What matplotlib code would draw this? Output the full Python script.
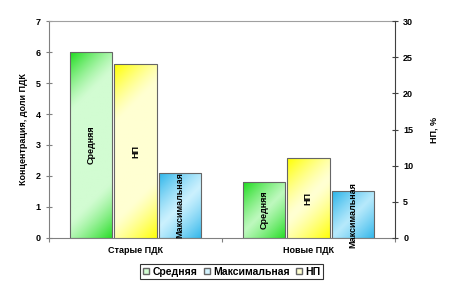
import numpy as np
import matplotlib.pyplot as plt
from matplotlib.colors import to_rgb
from matplotlib.patches import Patch

# --- data ---
categories = ['Старые ПДК', 'Новые ПДК']
mean_conc = [6.0, 1.8]      # Средняя, доли ПДК
max_conc = [2.1, 1.5]       # Максимальная, доли ПДК
np_pct = [24.0, 11.0]       # НП, %

plt.rcParams['font.family'] = ['Liberation Sans', 'DejaVu Sans']
plt.rcParams['font.weight'] = 'bold'

fig = plt.figure(figsize=(4.57, 2.89), dpi=100)
ax = fig.add_axes([0.107, 0.1765, 0.757, 0.7508])
ax2 = ax.twinx()

x = np.arange(len(categories))
w = 0.245
off = 0.258
edge = '#666666'

green = ('#1fdc1f', '#d2fcd2')
yellow = ('#ffff00', '#ffffd2')
blue = ('#2ab4ea', '#d4f4ff')

ax.set_xlim(-0.5, 1.5)
ax.set_ylim(0, 7)
ax2.set_ylim(0, 30)

b1 = ax.bar(x - off, mean_conc, w, facecolor='none', edgecolor=edge, linewidth=0.8, zorder=3)
b3 = ax.bar(x + off, max_conc, w, facecolor='none', edgecolor=edge, linewidth=0.8, zorder=3)
b2 = ax2.bar(x, np_pct, w, facecolor='none', edgecolor=edge, linewidth=0.8, zorder=3)


def fill_gradient(axis, bars, cols):
    c_sat = np.array(to_rgb(cols[0]))
    c_pale = np.array(to_rgb(cols[1]))
    for b in bars:
        x0, y0 = b.get_x(), b.get_y()
        x1, y1 = x0 + b.get_width(), y0 + b.get_height()
        (px0, py0), (px1, py1) = axis.transData.transform([(x0, y0), (x1, y1)])
        wp, hp = max(int(px1 - px0), 2), max(int(py1 - py0), 2)
        xx, yy = np.meshgrid(np.arange(wp), np.arange(hp))
        s = (xx + yy) / np.sqrt(2)
        smax = (wp + hp) / np.sqrt(2)
        L = 42.0
        t = np.maximum(np.clip(1 - s / L, 0, 1), np.clip(1 - (smax - s) / L, 0, 1)) ** 1.3
        img = c_pale[None, None, :] * (1 - t[..., None]) + c_sat[None, None, :] * t[..., None]
        im = axis.imshow(img, extent=(x0, x1, y0, y1), origin='upper', aspect='auto',
                         zorder=2, interpolation='bilinear')
        im.set_clip_path(b)


fill_gradient(ax, b1, green)
fill_gradient(ax, b3, blue)
fill_gradient(ax2, b2, yellow)
ax.set_xlim(-0.5, 1.5)
ax.set_ylim(0, 7)
ax2.set_ylim(0, 30)

# labels inside bars
lab_kw = dict(rotation=90, ha='center', va='center', fontsize=6.5, fontweight='bold', zorder=5)
for i in range(len(categories)):
    ax.text(x[i] - off, mean_conc[i] / 2, 'Средняя', **lab_kw)
    ax.text(x[i] + off, max_conc[i] / 2, 'Максимальная', **lab_kw)
    ax2.text(x[i], np_pct[i] / 2, 'НП', **lab_kw)

# axes styling
for a in (ax, ax2):
    for sp in a.spines.values():
        sp.set_visible(False)
ax.spines['left'].set_visible(True)
ax.spines['left'].set_color('#808080')
ax.spines['bottom'].set_visible(True)
ax.spines['bottom'].set_color('#808080')
ax.spines['top'].set_visible(True)
ax.spines['top'].set_color('#a0a0a0')
ax2.spines['right'].set_visible(True)
ax2.spines['right'].set_color('#404040')

ax.set_yticks(range(0, 8))
ax2.set_yticks(range(0, 31, 5))
ax.tick_params(axis='y', direction='inout', length=4, width=0.8, color='#808080', labelsize=6.5, pad=4)
ax2.tick_params(axis='y', direction='inout', length=4, width=0.8, color='#404040', labelsize=6.5, pad=4)

ax.set_xticks([-0.5, 0.5, 1.5])
ax.set_xticklabels([])
ax.set_xticks(x, minor=True)
ax.set_xticklabels(categories, minor=True)
ax.tick_params(axis='x', which='major', direction='out', length=3, color='#808080')
ax.tick_params(axis='x', which='minor', length=0, labelsize=6.5, pad=6)

ax.set_ylabel('Концентрация, доли ПДК', fontsize=6.5, fontweight='bold', labelpad=5)
ax2.set_ylabel('НП, %', fontsize=6.5, fontweight='bold', labelpad=12)

handles = [Patch(facecolor=green[1], edgecolor=edge),
           Patch(facecolor=blue[1], edgecolor=edge),
           Patch(facecolor=yellow[1], edgecolor=edge)]
leg = fig.legend(handles, ['Средняя', 'Максимальная', 'НП'], loc='center',
                 bbox_to_anchor=(0.507, 0.0595), ncol=3, fontsize=7.5,
                 frameon=True, fancybox=False, edgecolor='black',
                 handlelength=0.6, handleheight=0.6, handletextpad=0.3,
                 columnspacing=0.6, borderpad=0.25, borderaxespad=0)
leg.get_frame().set_linewidth(0.8)
for t in leg.get_texts():
    t.set_fontweight('bold')

fig.savefig('out.png', dpi=100)
